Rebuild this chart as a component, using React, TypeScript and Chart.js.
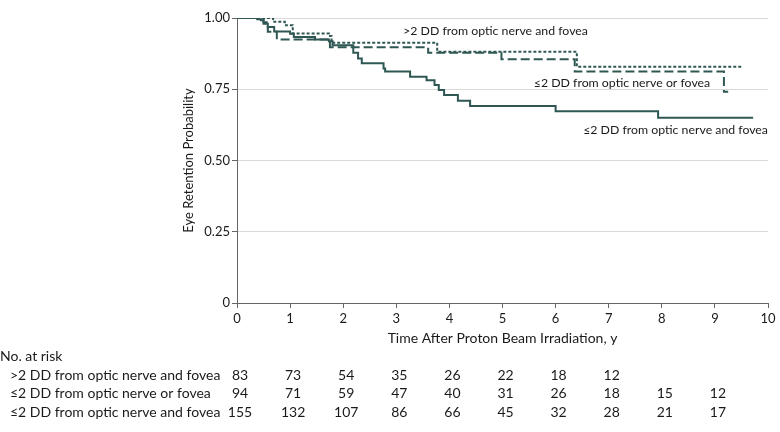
import React, { useEffect, useRef } from 'react';
import { Chart, registerables } from 'chart.js';

Chart.register(...registerables);

// ---- Data ----
const xTickValues = [0, 1, 2, 3, 4, 5, 6, 7, 8, 9, 10];
const yTickValues = [0, 0.25, 0.5, 0.75, 1];
const yTickLabels = ['0', '0.25', '0.50', '0.75', '1.00'];

const groupNames = [
  '>2 DD from optic nerve and fovea',
  '≤2 DD from optic nerve or fovea',
  '≤2 DD from optic nerve and fovea',
];

// >2 DD from optic nerve and fovea (short dashes)
const gtTimes = [0, 0.68, 0.9, 1.05, 1.73, 1.78, 3.77, 6.4, 9.53];
const gtSurv = [1.0, 0.987, 0.975, 0.946, 0.937, 0.913, 0.882, 0.829, 0.829];

// ≤2 DD from optic nerve or fovea (long dashes)
const orTimes = [0, 0.5, 0.58, 0.75, 1.75, 3.6, 4.98, 6.36, 9.17, 9.25];
const orSurv = [1.0, 0.985, 0.952, 0.925, 0.897, 0.878, 0.855, 0.812, 0.741, 0.741];

// ≤2 DD from optic nerve and fovea (solid)
const andTimes = [0, 0.38, 0.45, 0.5, 0.58, 0.7, 1.0, 1.07, 1.47, 1.73, 1.8, 2.19, 2.28, 2.35, 2.76, 2.79, 3.26, 3.57, 3.72, 3.8, 3.9, 4.16, 4.39, 6.0, 7.93, 9.72];
const andSurv = [1.0, 0.996, 0.992, 0.98, 0.968, 0.953, 0.945, 0.933, 0.925, 0.918, 0.904, 0.878, 0.858, 0.841, 0.823, 0.812, 0.794, 0.782, 0.765, 0.747, 0.73, 0.71, 0.691, 0.673, 0.65, 0.65];

// Number at risk
const riskTimes = [0, 1, 2, 3, 4, 5, 6, 7, 8, 9];
const riskGt = [83, 73, 54, 35, 26, 22, 18, 12];
const riskOr = [94, 71, 59, 47, 40, 31, 26, 18, 15, 12];
const riskAnd = [155, 132, 107, 86, 66, 45, 32, 28, 21, 17];

// Curve label anchors (data coordinates: time, probability)
const labelTimes = [3.13, 5.59, 6.52];
const labelProbs = [0.954, 0.772, 0.607];

const LINE = '#2f5753';
const FONT = 'Lato, "Noto Sans", sans-serif';

const toPts = (t: number[], s: number[]) => t.map((x, i) => ({ x, y: s[i] }));

const extrasPlugin = {
  id: 'kmExtras',
  afterDraw(chart: any) {
    const { ctx, scales } = chart;
    const x = scales.x;
    const y = scales.y;
    ctx.save();
    ctx.fillStyle = '#1a1a1a';
    ctx.textBaseline = 'middle';
    ctx.textAlign = 'left';
    ctx.font = `12.3px ${FONT}`;
    groupNames.forEach((name, i) => {
      ctx.fillText(name, x.getPixelForValue(labelTimes[i]), y.getPixelForValue(labelProbs[i]));
    });

    // risk table
    ctx.font = `14px ${FONT}`;
    ctx.fillText('No. at risk', 0, 356);
    const rows = [riskGt, riskOr, riskAnd];
    const rowY = [375, 393.5, 412];
    rows.forEach((vals, r) => {
      ctx.textAlign = 'left';
      ctx.fillText(groupNames[r], 10, rowY[r]);
      ctx.textAlign = 'center';
      vals.forEach((v, i) => {
        ctx.fillText(String(v), x.getPixelForValue(riskTimes[i]) + 3, rowY[r]);
      });
    });
    ctx.restore();
  },
};

export default function App() {
  const canvasRef = useRef<HTMLCanvasElement | null>(null);

  useEffect(() => {
    if (!canvasRef.current) return;
    const chart = new Chart(canvasRef.current, {
      type: 'line',
      data: {
        datasets: [
          {
            label: groupNames[0],
            data: toPts(gtTimes, gtSurv),
            stepped: 'before',
            borderColor: LINE,
            borderWidth: 2,
            borderDash: [3, 2],
            pointRadius: 0,
            fill: false,
          },
          {
            label: groupNames[1],
            data: toPts(orTimes, orSurv),
            stepped: 'before',
            borderColor: LINE,
            borderWidth: 2,
            borderDash: [9, 4],
            pointRadius: 0,
            fill: false,
          },
          {
            label: groupNames[2],
            data: toPts(andTimes, andSurv),
            stepped: 'before',
            borderColor: LINE,
            borderWidth: 2,
            pointRadius: 0,
            fill: false,
          },
        ],
      },
      options: {
        responsive: false,
        animation: false,
        devicePixelRatio: 1,
        layout: { padding: { left: 170, right: 12, top: 18, bottom: 0 } },
        plugins: {
          legend: { display: false },
          tooltip: { enabled: false },
        },
        scales: {
          x: {
            type: 'linear',
            min: 0,
            max: 10,
            afterBuildTicks: (s: any) => {
              s.ticks = xTickValues.map((v) => ({ value: v }));
            },
            afterFit: (s: any) => {
              s.height = 129;
            },
            ticks: {
              color: '#1a1a1a',
              font: { family: FONT, size: 13 },
              padding: 3,
              maxRotation: 0,
              callback: (v: any) => String(v),
            },
            grid: {
              display: true,
              drawOnChartArea: false,
              drawTicks: true,
              tickLength: 5,
              tickColor: '#666',
            },
            border: { display: true, color: '#666', width: 1 },
            title: {
              display: true,
              text: 'Time After Proton Beam Irradiation, y',
              color: '#1a1a1a',
              font: { family: FONT, size: 14 },
              padding: { top: 0, bottom: 85 },
            },
          },
          y: {
            type: 'linear',
            min: 0,
            max: 1,
            afterBuildTicks: (s: any) => {
              s.ticks = yTickValues.map((v) => ({ value: v }));
            },
            afterFit: (s: any) => {
              s.width = 67;
            },
            ticks: {
              color: '#1a1a1a',
              font: { family: FONT, size: 13 },
              padding: 2,
              callback: (_v: any, i: number) => yTickLabels[i],
            },
            grid: {
              color: (c: any) => (c.tick && c.tick.value === 0 ? 'rgba(0,0,0,0)' : '#d9d9d9'),
              lineWidth: 1,
              drawTicks: true,
              tickLength: 5,
              tickColor: '#666',
            },
            border: { display: true, color: '#666', width: 1 },
            title: {
              display: true,
              text: 'Eye Retention Probability',
              color: '#1a1a1a',
              font: { family: FONT, size: 13 },
              padding: { top: 11, bottom: 0 },
            },
          },
        },
      },
      plugins: [extrasPlugin],
    } as any);
    return () => chart.destroy();
  }, []);

  return (
    <div style={{ position: 'absolute', left: 0, top: 0, width: 780, height: 432, background: '#fff' }}>
      <canvas ref={canvasRef} width={780} height={432} style={{ display: 'block' }} />
    </div>
  );
}
